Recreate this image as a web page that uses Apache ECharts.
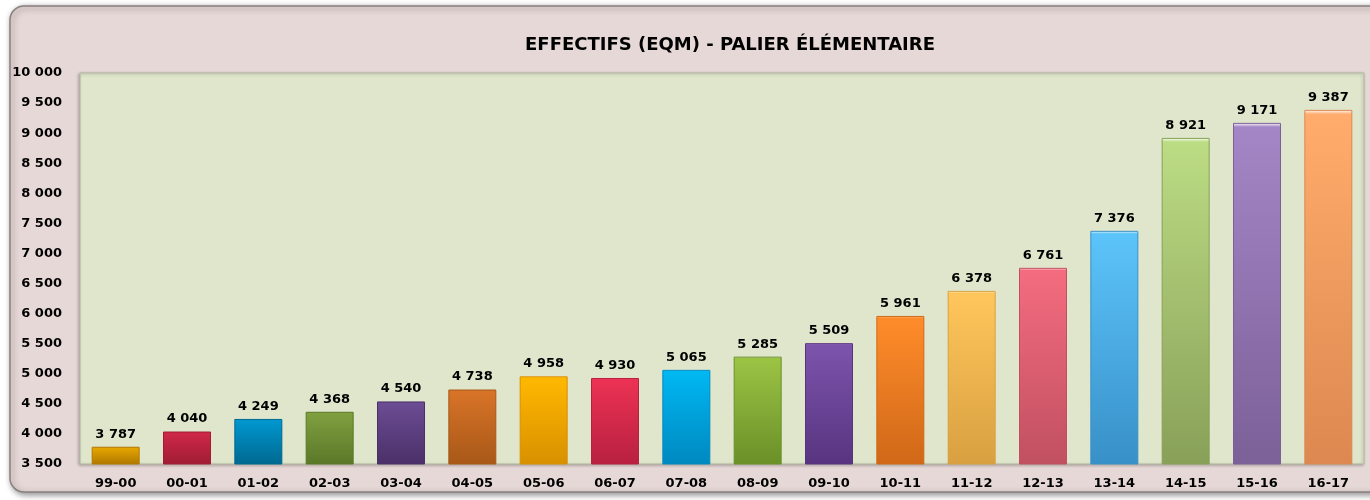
<!DOCTYPE html>
<html>
<head>
<meta charset="utf-8">
<script src="https://cdn.jsdelivr.net/npm/echarts@6/dist/echarts.min.js"></script>
<style>
  html, body { margin: 0; padding: 0; background: #ffffff; }
  #chart { width: 1370px; height: 500px; }
</style>
</head>
<body>
<div id="chart"></div>
<script>
const years = ['99-00', '00-01', '01-02', '02-03', '03-04', '04-05', '05-06', '06-07', '07-08',
  '08-09', '09-10', '10-11', '11-12', '12-13', '13-14', '14-15', '15-16', '16-17']
const effectifs = [3787, 4040, 4249, 4368, 4540, 4738, 4958, 4930, 5065,
  5285, 5509, 5961, 6378, 6761, 7376, 8921, 9171, 9387]

// top / bottom colour of each bar
const palette = [
  ['#e8a800', '#b07800'], ['#d02848', '#a01c34'], ['#0098d0', '#006890'],
  ['#80a040', '#5a7828'], ['#6c4c94', '#4a3068'], ['#d87428', '#a85818'],
  ['#ffb800', '#d89000'], ['#ec3254', '#b82040'], ['#00b8f2', '#0088c0'],
  ['#9cc444', '#6a9028'], ['#7c54ac', '#583480'], ['#ff8c2a', '#d06818'],
  ['#ffc65c', '#d8a040'], ['#f46c80', '#c05060'], ['#5cc4fa', '#3890c8'],
  ['#bcdc84', '#88a058'], ['#a486c6', '#7c6098'], ['#ffac6c', '#dc8850']
]

const fmt = v => String(v).replace(/\B(?=(\d{3})+(?!\d))/g, ' ')

const chart = echarts.init(document.getElementById('chart'))

const option = {
  backgroundColor: '#ffffff',
  textStyle: { fontFamily: 'DejaVu Sans' },
  graphic: [{
    type: 'rect',
    z: -10,
    shape: { x: 10, y: 6, width: 1380, height: 486, r: 14 },
    style: {
      fill: '#e6d8d6',
      stroke: '#8a8080',
      lineWidth: 1.5,
      shadowBlur: 6,
      shadowColor: 'rgba(0,0,0,0.45)',
      shadowOffsetX: 2,
      shadowOffsetY: 2
    }
  }],
  title: {
    text: 'EFFECTIFS (EQM) - PALIER ÉLÉMENTAIRE',
    left: 725,
    top: 31,
    textAlign: 'center',
    textStyle: { fontSize: 18, fontWeight: 'bold', color: '#000000', fontFamily: 'DejaVu Sans' }
  },
  grid: {
    left: 80,
    right: 6,
    top: 73,
    bottom: 36,
    show: true,
    backgroundColor: '#dfe6cc',
    borderColor: '#b0b8a0',
    borderWidth: 1,
    shadowColor: 'rgba(0,0,0,0.25)',
    shadowBlur: 3,
    shadowOffsetX: -1,
    shadowOffsetY: 1
  },
  xAxis: {
    type: 'category',
    data: years,
    axisLine: { show: false },
    axisTick: { show: false },
    axisLabel: { color: '#000000', fontWeight: 'bold', fontSize: 13, margin: 13 }
  },
  yAxis: {
    type: 'value',
    min: 3500,
    max: 10000,
    interval: 500,
    splitLine: { show: false },
    axisLine: { show: false },
    axisTick: { show: false },
    axisLabel: {
      color: '#000000', fontWeight: 'bold', fontSize: 13, margin: 18,
      formatter: v => fmt(v)
    }
  },
  series: [{
    type: 'bar',
    barWidth: 48,
    data: effectifs.map((v, i) => ({
      value: v,
      itemStyle: {
        color: new echarts.graphic.LinearGradient(0, 0, 0, 1, [
          { offset: 0, color: '#ffffff' },
          { offset: 0.012, color: palette[i][0] },
          { offset: 1, color: palette[i][1] }
        ]),
        borderColor: palette[i][1],
        borderWidth: 1
      }
    })),
    label: {
      show: true,
      position: 'top',
      distance: 6,
      color: '#000000',
      fontWeight: 'bold',
      fontSize: 13,
      formatter: p => fmt(p.value)
    }
  }]
}

chart.setOption(option)
</script>
</body>
</html>
